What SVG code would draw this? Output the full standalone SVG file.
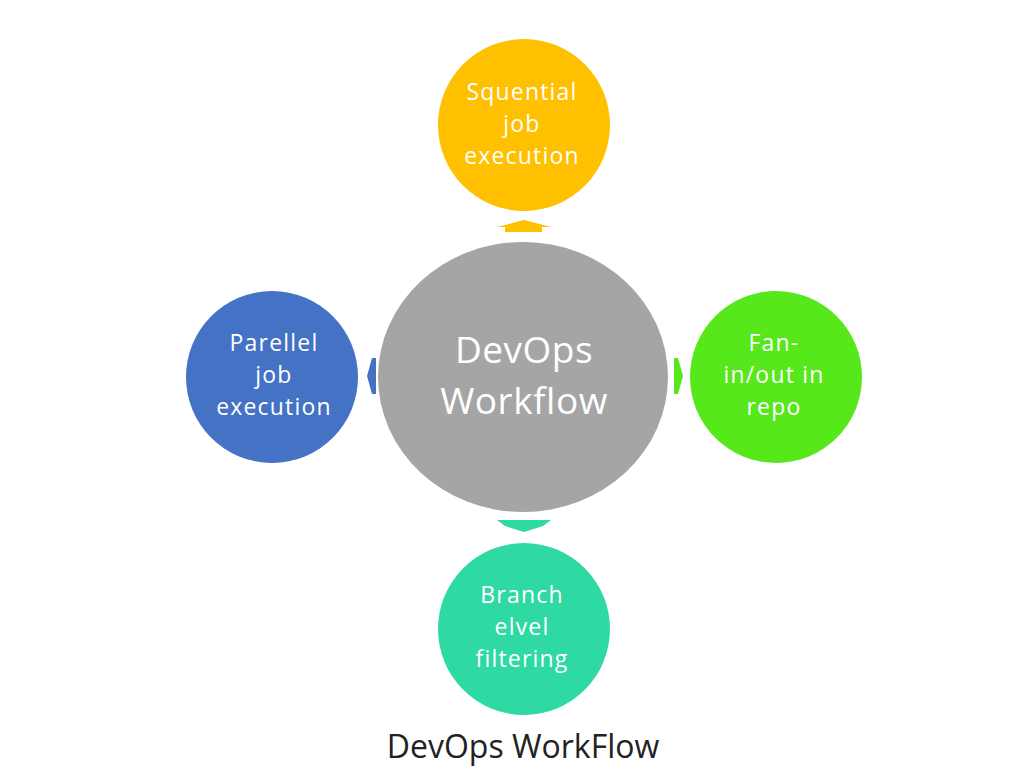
<svg xmlns="http://www.w3.org/2000/svg" width="1011" height="778" viewBox="0 0 1011 778">
<style>
.t{font-family:"Open Sans","Noto Sans",sans-serif;fill:#fff;text-anchor:middle;font-size:23px;letter-spacing:1.2px}
.c{font-family:"Open Sans","Noto Sans",sans-serif;fill:#fff;text-anchor:middle;font-size:37px;letter-spacing:0.5px}
.cap{font-family:"Open Sans","Noto Sans",sans-serif;fill:#222;text-anchor:middle;font-size:32px}
</style>
<rect width="1011" height="778" fill="#fff"/>
<g id="connectors">
<polygon points="497,227 524,220 551,227 542,227 542,232 505,232 505,227" fill="#FFC000"/>
<polygon points="497,520 551,520 543,526 524,532 505,526" fill="#2ED9A3"/>
<polygon points="367,376 372,358 376,358 376,394 372,394" fill="#4472C4"/>
<polygon points="683,376 678,358 674,358 674,394 678,394" fill="#56E81A"/>
</g>
<g id="center">
<ellipse cx="523" cy="377" rx="145" ry="135" fill="#A5A5A5"/>
<text class="c" x="524" y="363">DevOps</text>
<text class="c" x="524" y="414">Workflow</text>
</g>
<g id="top">
<circle cx="524" cy="125" r="86" fill="#FFC000"/>
<text class="t" x="522" y="100">Squential</text>
<text class="t" x="522" y="132">job</text>
<text class="t" x="522" y="164">execution</text>
</g>
<g id="left">
<circle cx="272" cy="377" r="86" fill="#4472C4"/>
<text class="t" x="274" y="351">Parellel</text>
<text class="t" x="274" y="383">job</text>
<text class="t" x="274" y="415">execution</text>
</g>
<g id="right">
<circle cx="776" cy="377" r="86" fill="#56E81A"/>
<text class="t" x="774" y="351">Fan-</text>
<text class="t" x="774" y="383">in/out in</text>
<text class="t" x="774" y="415">repo</text>
</g>
<g id="bottom">
<circle cx="524" cy="629" r="86" fill="#2ED9A3"/>
<text class="t" x="522" y="603">Branch</text>
<text class="t" x="522" y="635">elvel</text>
<text class="t" x="522" y="667">filtering</text>
</g>
<text class="cap" x="523" y="758">DevOps WorkFlow</text>
</svg>
